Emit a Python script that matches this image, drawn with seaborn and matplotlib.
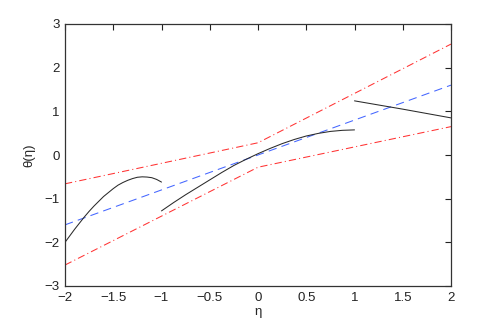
import numpy as np
import pandas as pd
import matplotlib
matplotlib.use("Agg")
import matplotlib.pyplot as plt
import seaborn as sns

# ---- data ----
seg1_x = [-2.0, -1.95, -1.9, -1.85, -1.8, -1.75, -1.7, -1.65, -1.6, -1.55, -1.5,
          -1.45, -1.4, -1.35, -1.3, -1.25, -1.2, -1.15, -1.1, -1.05, -1.0]
seg1_y = [-2.0, -1.85, -1.70, -1.56, -1.42, -1.29, -1.17, -1.06, -0.95, -0.86, -0.77,
          -0.69, -0.63, -0.58, -0.54, -0.51, -0.50, -0.505, -0.52, -0.56, -0.62]
seg2_x = [-1.0, -0.875, -0.75, -0.625, -0.5, -0.375, -0.25, -0.125, 0.0,
          0.125, 0.25, 0.375, 0.5, 0.625, 0.75, 0.875, 1.0]
seg2_y = [-1.28, -1.09, -0.91, -0.74, -0.57, -0.40, -0.24, -0.10, 0.03,
          0.15, 0.26, 0.355, 0.435, 0.495, 0.54, 0.565, 0.575]
seg3_x = [1.0, 1.5, 2.0]
seg3_y = [1.24, 1.05, 0.85]
mid_x = [-2.0, 2.0]
mid_y = [-1.6, 1.6]
upper_x = [-2.0, 0.0, 2.0]
upper_y = [-0.66, 0.28, 2.54]
lower_x = [-2.0, 0.0, 2.0]
lower_y = [-2.52, -0.28, 0.65]
xticks = [-2, -1.5, -1, -0.5, 0, 0.5, 1, 1.5, 2]
yticks = [-3, -2, -1, 0, 1, 2, 3]
xticklabels = ["\u22122", "\u22121.5", "\u22121", "\u22120.5", "0", "0.5", "1", "1.5", "2"]
yticklabels = ["\u22123", "\u22122", "\u22121", "0", "1", "2", "3"]

sns.set_style("white")
plt.rcParams['font.family'] = ['Liberation Sans', 'DejaVu Sans']

fig = plt.figure(figsize=(4.98, 3.23), dpi=100)
ax = fig.add_axes([65/498, 1 - 286/323, (451-65)/498, (286-24)/323])

lw = 0.75
sns.lineplot(x=mid_x, y=mid_y, ax=ax, color="#4466ff", lw=lw,
             linestyle=(0, (8, 5)))
sns.lineplot(x=upper_x, y=upper_y, ax=ax, color="#ff3333", lw=lw,
             linestyle=(0, (7, 3, 1, 3)))
sns.lineplot(x=lower_x, y=lower_y, ax=ax, color="#ff3333", lw=lw,
             linestyle=(0, (7, 3, 1, 3)))
for sx, sy in [(seg1_x, seg1_y), (seg2_x, seg2_y), (seg3_x, seg3_y)]:
    sns.lineplot(x=sx, y=sy, ax=ax, color="#2a2a2a", lw=lw, sort=False)

ax.set_xlim(-2, 2)
ax.set_ylim(-3, 3)
ax.set_xticks(xticks)
ax.set_xticklabels(xticklabels)
ax.set_yticks(yticks)
ax.set_yticklabels(yticklabels)
ax.tick_params(direction="in", length=4, width=0.8, top=True, right=True,
               labelsize=9.5, colors="#222222", pad=4)
for s in ax.spines.values():
    s.set_visible(True)
    s.set_color("#333333")
    s.set_linewidth(0.9)
ax.set_xlabel("\u03b7", fontsize=9.5, labelpad=2)
ax.set_ylabel("\u03b8(\u03b7)", fontsize=9.5, labelpad=6)

fig.savefig("out.png", dpi=100)
